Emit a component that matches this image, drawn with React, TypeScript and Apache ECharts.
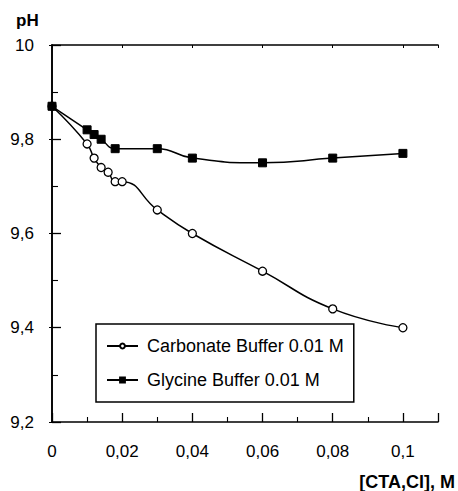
import React, { useEffect, useRef } from "react";
import * as echarts from "echarts";

const carbonateX = [0, 0.01, 0.012, 0.014, 0.016, 0.018, 0.02, 0.03, 0.04, 0.06, 0.08, 0.1];
const carbonateY = [9.87, 9.79, 9.76, 9.74, 9.73, 9.71, 9.71, 9.65, 9.6, 9.52, 9.44, 9.4];
const glycineX = [0, 0.01, 0.012, 0.014, 0.018, 0.03, 0.04, 0.06, 0.08, 0.1];
const glycineY = [9.87, 9.82, 9.81, 9.8, 9.78, 9.78, 9.76, 9.75, 9.76, 9.77];
const seriesNames = ["Carbonate Buffer 0.01 M", "Glycine Buffer 0.01 M"];
const xName = "[CTA,Cl], M";
const yName = "pH";

const FONT = "'Liberation Sans', Arial, sans-serif";

export default function App() {
  const ref = useRef<HTMLDivElement>(null);
  useEffect(() => {
    if (!ref.current) return;
    const chart = echarts.init(ref.current, undefined, { renderer: "svg" });
    const fmt = (v: number) => {
      const r = Math.round(v * 1000) / 1000;
      return String(r).replace(".", ",");
    };
    const axisCommon = {
      axisLine: { show: true, lineStyle: { color: "#000", width: 1.6 } },
      splitLine: { show: false },
    };
    chart.setOption({
      animation: false,
      backgroundColor: "#fff",
      textStyle: { fontFamily: FONT },
      grid: { left: 52, right: 20, top: 45, bottom: 69, containLabel: false },
      legend: {
        orient: "vertical",
        left: 96,
        top: 324,
        padding: [13, 10, 13, 10],
        itemGap: 16,
        itemWidth: 31,
        itemHeight: 6,
        borderColor: "#000",
        borderWidth: 1.5,
        borderRadius: 0,
        backgroundColor: "#fff",
        textStyle: { fontFamily: FONT, fontSize: 18, color: "#000", padding: [0, 0, 0, 4] },
        data: seriesNames,
      },
      xAxis: [
        {
          type: "value",
          min: 0,
          max: 0.11,
          interval: 0.02,
          ...axisCommon,
          axisTick: { show: true, inside: true, length: 9, lineStyle: { color: "#000", width: 1.3 } },
          minorTick: { show: true, splitNumber: 2, length: 5, lineStyle: { color: "#000", width: 1.1 } },
          axisLabel: {
            color: "#000",
            fontSize: 17,
            fontFamily: FONT,
            margin: 21,
            showMaxLabel: false,
            formatter: (v: number) => (Math.abs(v - 0.11) < 1e-9 ? "" : fmt(v)),
          },
        },
        {
          type: "value",
          position: "top",
          min: 0,
          max: 0.11,
          interval: 0.02,
          ...axisCommon,
          axisTick: { show: true, inside: true, length: 3, lineStyle: { color: "#000" } },
          axisLabel: { show: false },
        },
      ],
      yAxis: [
        {
          type: "value",
          min: 9.2,
          max: 10,
          interval: 0.2,
          ...axisCommon,
          axisTick: { show: true, inside: true, length: 9, lineStyle: { color: "#000", width: 1.3 } },
          minorTick: { show: true, splitNumber: 2, length: 6, lineStyle: { color: "#000", width: 1.1 } },
          axisLabel: { color: "#000", fontSize: 17, fontFamily: FONT, margin: 18, formatter: (v: number) => fmt(v) },
        },
        {
          type: "value",
          position: "right",
          min: 9.2,
          max: 10,
          interval: 0.2,
          ...axisCommon,
          axisTick: { show: true, inside: true, length: 3, lineStyle: { color: "#000" } },
          axisLabel: { show: false },
        },
      ],
      graphic: [
        {
          type: "text",
          left: 16,
          top: 12,
          style: { text: yName, font: `bold 17px ${FONT}`, fill: "#000" },
        },
        {
          type: "text",
          right: 3,
          top: 473,
          style: { text: xName, font: `bold 18px ${FONT}`, fill: "#000" },
        },
      ],
      series: [
        {
          name: seriesNames[0],
          type: "line",
          smooth: 0.5,
          symbol: "circle",
          symbolSize: 8,
          itemStyle: { color: "#fff", borderColor: "#000", borderWidth: 1.3 },
          lineStyle: { color: "#000", width: 1.5 },
          data: carbonateX.map((x, i) => [x, carbonateY[i]]),
          z: 3,
        },
        {
          name: seriesNames[1],
          type: "line",
          smooth: 0.5,
          symbol: "rect",
          symbolSize: 8,
          itemStyle: { color: "#000", borderColor: "#000", borderWidth: 1 },
          lineStyle: { color: "#000", width: 1.5 },
          data: glycineX.map((x, i) => [x, glycineY[i]]),
          z: 3,
        },
      ],
    });
    return () => chart.dispose();
  }, []);
  return <div ref={ref} style={{ width: 458, height: 491, position: "absolute", left: 0, top: 0 }} />;
}
